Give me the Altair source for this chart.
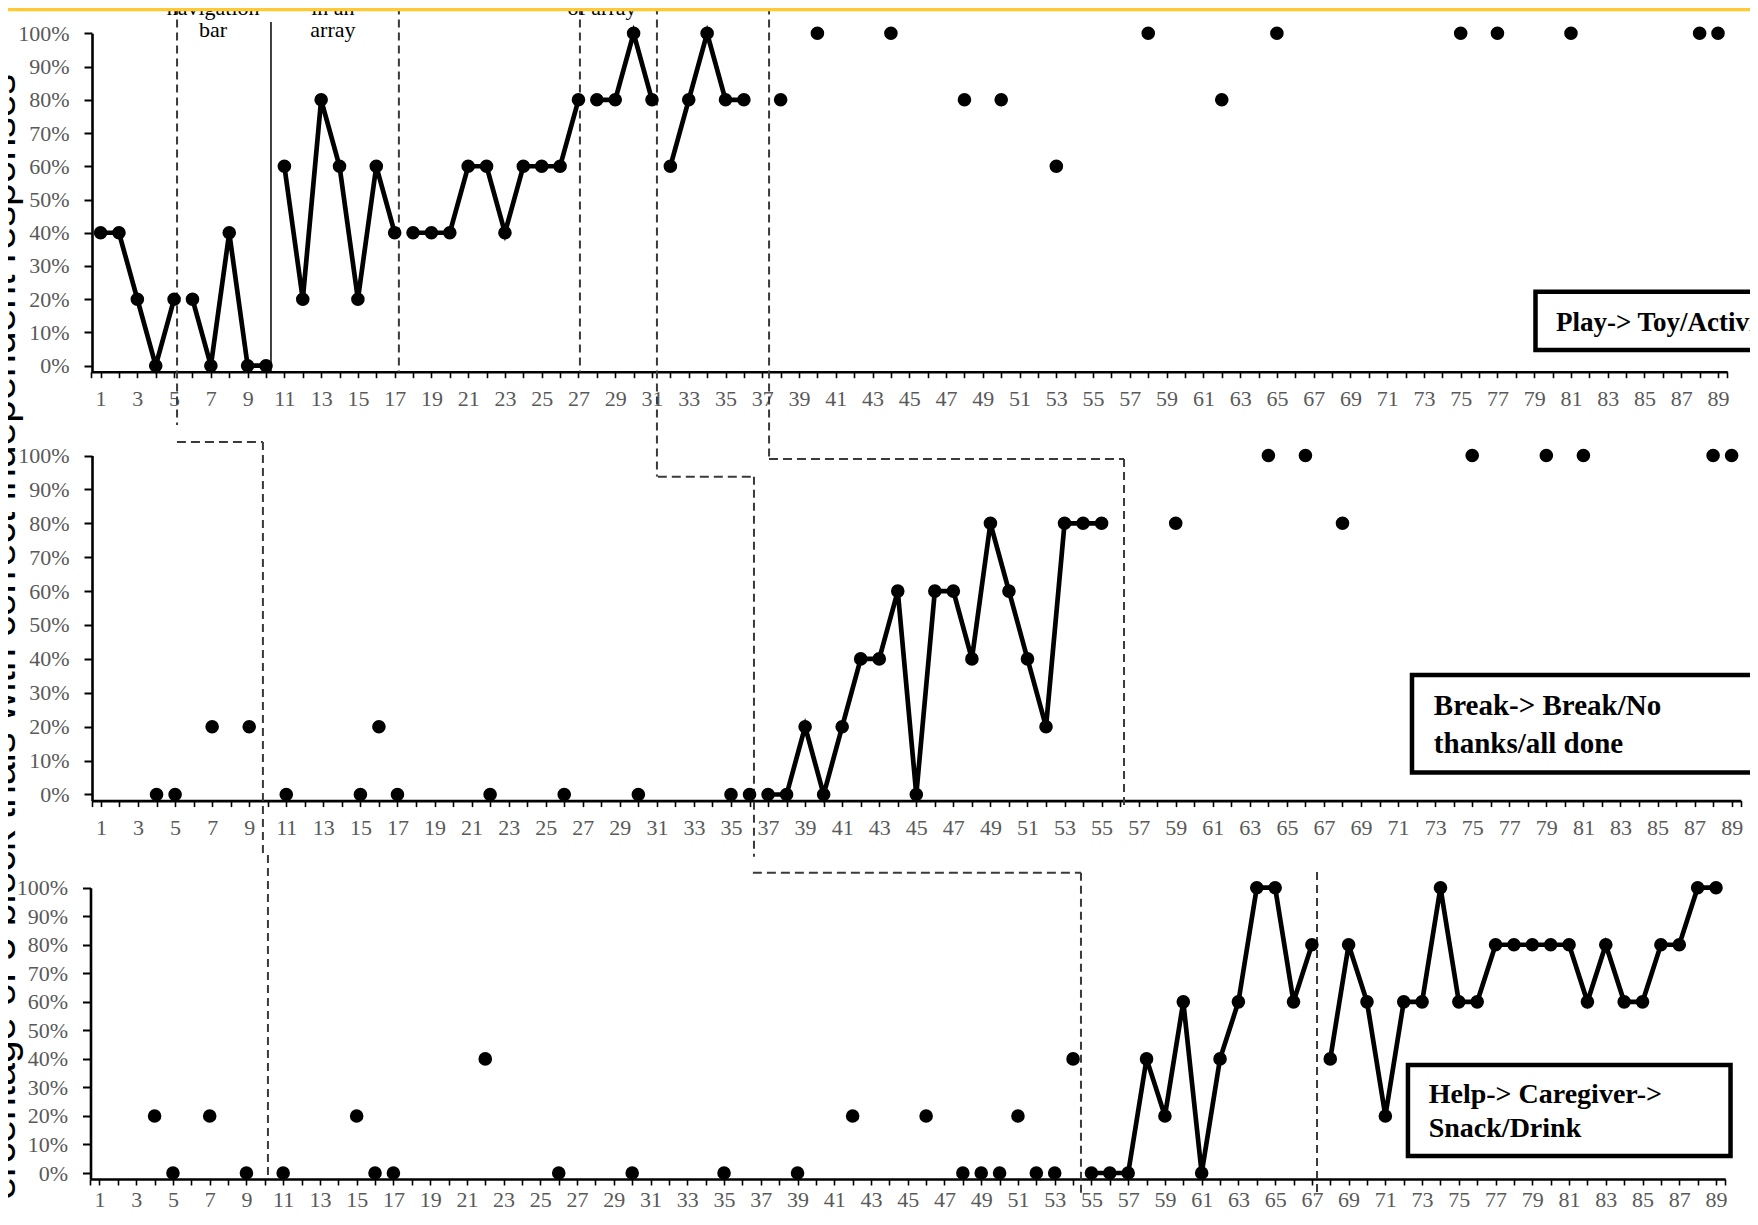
import altair as alt
import pandas as pd

# ---------------- data ----------------
# Panel 1: Play -> Toy/Activity
P1_SESSIONS = [1, 2, 3, 4, 5, 6, 7, 8, 9, 10, 11, 12, 13, 14, 15, 16, 17, 18, 19, 20,
               21, 22, 23, 24, 25, 26, 27, 28, 29, 30, 31, 32, 33, 34, 35, 36,
               38, 40, 44, 48, 50, 53, 58, 62, 65, 75, 77, 81, 88, 89]
P1_VALUES = [40, 40, 20, 0, 20,
             20, 0, 40, 0, 0,
             60, 20, 80, 60, 20, 60, 40,
             40, 40, 40, 60, 60, 40, 60, 60, 60, 80,
             80, 80, 100, 80,
             60, 80, 100, 80, 80,
             80, 100, 100, 80, 80, 60, 100, 80, 100, 100, 100, 100, 100, 100]
P1_RUNS = [(1, 5), (6, 10), (11, 17), (18, 27), (28, 31), (32, 36)]

# Panel 2: Break -> Break/No thanks/all done
P2_SESSIONS = [4, 5, 7, 9, 11, 15, 16, 17, 22, 26, 30, 35, 36,
               37, 38, 39, 40, 41, 42, 43, 44, 45, 46, 47, 48, 49, 50, 51, 52, 53, 54, 55,
               59, 64, 66, 68, 75, 79, 81, 88, 89]
P2_VALUES = [0, 0, 20, 20, 0, 0, 20, 0, 0, 0, 0, 0, 0,
             0, 0, 20, 0, 20, 40, 40, 60, 0, 60, 60, 40, 80, 60, 40, 20, 80, 80, 80,
             80, 100, 100, 80, 100, 100, 100, 100, 100]
P2_RUNS = [(37, 55)]

# Panel 3: Help -> Caregiver -> Snack/Drink
P3_SESSIONS = [4, 5, 7, 9, 11, 15, 16, 17, 22, 26, 30, 35, 39, 42, 46, 48, 49, 50, 51, 52, 53, 54,
               55, 56, 57, 58, 59, 60, 61, 62, 63, 64, 65, 66, 67,
               68, 69, 70, 71, 72, 73, 74, 75, 76, 77, 78, 79, 80, 81, 82, 83, 84, 85, 86, 87, 88, 89]
P3_VALUES = [20, 0, 20, 0, 0, 20, 0, 0, 40, 0, 0, 0, 0, 20, 20, 0, 0, 0, 20, 0, 0, 40,
             0, 0, 0, 40, 20, 60, 0, 40, 60, 100, 100, 60, 80,
             40, 80, 60, 20, 60, 60, 100, 60, 60, 80, 80, 80, 80, 80, 60, 80, 60, 60, 80, 80, 100, 100]
P3_RUNS = [(55, 67), (68, 89)]

X_TICKS = [0.5, 1, 2, 3, 4, 5, 6, 7, 8, 9, 10, 11, 12, 13, 14, 15, 16, 17, 18, 19, 20,
           21, 22, 23, 24, 25, 26, 27, 28, 29, 30, 31, 32, 33, 34, 35, 36, 37, 38, 39, 40,
           41, 42, 43, 44, 45, 46, 47, 48, 49, 50, 51, 52, 53, 54, 55, 56, 57, 58, 59, 60,
           61, 62, 63, 64, 65, 66, 67, 68, 69, 70, 71, 72, 73, 74, 75, 76, 77, 78, 79, 80,
           81, 82, 83, 84, 85, 86, 87, 88, 89, 89.5]
Y_TICKS = [0, 10, 20, 30, 40, 50, 60, 70, 80, 90, 100]

Y_TITLE = "Percentage of 5 block trials with correct independent responses"

# phase-change lines (session position, percent extents)
P1_DASHED = [(5.16, 112, -17.8), (17.23, 112, -1.9), (27.08, 112, -1.9),
             (31.27, 112, -33.3), (37.37, 112, -28.1)]
P1_SOLID = [(10.27, 103.4, -1.9)]
P2_DASHED = [(9.74, 104.0, -18.4), (36.24, 93.7, -18.4), (56.21, 99.0, -3.4)]
P2_HORIZ = [(5.10, 9.74, 104.0), (31.05, 36.24, 93.7), (37.05, 56.21, 99.0)]
P3_DASHED = [(10.17, 111.5, -2.5), (54.43, 105.2, -7.0), (67.28, 105.5, -7.0)]
P3_HORIZ = [(36.57, 54.43, 105.2)]

# phase labels at the top of panel 1
P1_PHASE_TEXT = ["navigation", "bar", "in an", "array", "of array"]
P1_PHASE_X = [7.12, 7.12, 13.64, 13.64, 28.28]
P1_PHASE_Y = [105.6, 98.8, 105.6, 98.8, 105.6]

# tier label boxes
P1_BOX = (79.07, 96, 22.26, 4.72)
P1_BOX_TEXT = [("Play-> Toy/Activity", 80.18, 10.44)]
P2_BOX = (71.75, 96, 35.25, 6.49)
P2_BOX_TEXT = [("Break-> Break/No", 72.93, 23.45), ("thanks/all done", 72.93, 12.24)]
P3_BOX = (72.23, 89.79, 37.85, 5.96)
P3_BOX_TEXT = [("Help-> Caregiver->", 73.36, 24.54), ("Snack/Drink", 73.36, 12.62)]

HEADER_BAR = (-10, 100, 108, 106.6)

SERIF = "Liberation Serif"
W, H = 1658, 1204


def run_id(s, runs):
    for i, (a, b) in enumerate(runs):
        if a <= s <= b:
            return f"r{i}"
    return None


def build_panel(sessions, values, runs, xrange, yrange, ymin, xoffset, yoffset,
                label_pad, dashed, solid, horiz, box, box_text, box_font,
                title=None, extra_layers_fn=None):
    pts = pd.DataFrame({"s": sessions, "v": values})
    pts["run"] = [run_id(s, runs) for s in sessions]
    lines = pts.dropna(subset=["run"])

    xs = alt.Scale(domain=[0.5, 89.5], range=xrange, nice=False, zero=False)
    ys = alt.Scale(domain=[ymin, 100], range=yrange, nice=False, zero=False)
    xa = alt.Axis(orient="bottom", offset=xoffset, values=X_TICKS,
                  labelExpr="datum.value % 2 == 1 ? format(datum.value, 'd') : ''",
                  labelFont=SERIF, labelFontSize=22, labelColor="#595959",
                  labelPadding=label_pad, labelFlush=False, labelOverlap=False,
                  tickSize=6, tickWidth=1.6, tickColor="black",
                  domainColor="black", domainWidth=2.6, grid=False)
    ya_kw = dict(orient="left", offset=yoffset, values=Y_TICKS,
                 labelExpr="datum.value + '%'",
                 labelFont=SERIF, labelFontSize=22, labelColor="#595959",
                 labelPadding=15, labelFlush=False, labelOverlap=False,
                 tickSize=8, tickWidth=2, tickColor="black",
                 domainColor="black", domainWidth=2.6, grid=False)
    if title is not None:
        ya_kw.update(titleX=-78, titleY=642, titleAngle=270, titleAlign="center",
                     titleBaseline="alphabetic", titleFont="Liberation Sans",
                     titleFontSize=41, titleFontWeight="normal", titleColor="black")
    ya = alt.Axis(**ya_kw)

    def X(f):
        return alt.X(f, type="quantitative", scale=xs, axis=xa, title=None)

    def Y(f):
        return alt.Y(f, type="quantitative", scale=ys, axis=ya, title=title)

    layers = []
    dv = pd.DataFrame(dashed, columns=["s", "v", "v2"])
    layers.append(alt.Chart(dv).mark_rule(color="#3a3a3a", strokeWidth=2,
                                          strokeDash=[8, 5], clip=False)
                  .encode(x=X("s"), y=Y("v"), y2=alt.Y2("v2")))
    if solid:
        sv = pd.DataFrame(solid, columns=["s", "v", "v2"])
        layers.append(alt.Chart(sv).mark_rule(color="black", strokeWidth=1.5, clip=False)
                      .encode(x=X("s"), y=Y("v"), y2=alt.Y2("v2")))
    if horiz:
        hv = pd.DataFrame(horiz, columns=["s", "s2", "v"])
        layers.append(alt.Chart(hv).mark_rule(color="#3a3a3a", strokeWidth=2,
                                              strokeDash=[9, 5], clip=False)
                      .encode(x=X("s"), x2=alt.X2("s2"), y=Y("v")))
    layers.append(alt.Chart(lines).mark_line(color="black", strokeWidth=4.7, clip=False)
                  .encode(x=X("s"), y=Y("v"), detail="run:N"))
    layers.append(alt.Chart(pts).mark_circle(color="black", opacity=1, size=185, clip=False)
                  .encode(x=X("s"), y=Y("v")))
    bx = pd.DataFrame([box], columns=["s", "s2", "v", "v2"])
    layers.append(alt.Chart(bx).mark_rect(fill="white", stroke="black", strokeWidth=4.5,
                                          clip=False)
                  .encode(x=X("s"), x2=alt.X2("s2"), y=Y("v"), y2=alt.Y2("v2")))
    bt = pd.DataFrame(box_text, columns=["t", "s", "v"])
    layers.append(alt.Chart(bt).mark_text(align="left", baseline="alphabetic", font=SERIF,
                                          fontWeight="bold", fontSize=box_font,
                                          color="black", clip=False)
                  .encode(x=X("s"), y=Y("v"), text="t:N"))
    if extra_layers_fn is not None:
        layers.extend(extra_layers_fn(X, Y))
    return alt.layer(*layers)


def p1_extra(X, Y):
    tx = pd.DataFrame({"t": P1_PHASE_TEXT, "s": P1_PHASE_X, "v": P1_PHASE_Y})
    t = (alt.Chart(tx).mark_text(align="center", baseline="alphabetic", font=SERIF,
                                 fontSize=22, color="black", clip=False)
         .encode(x=X("s"), y=Y("v"), text="t:N"))
    hb = pd.DataFrame([HEADER_BAR], columns=["s", "s2", "v", "v2"])
    bar = (alt.Chart(hb).mark_rect(color="#FFC933", clip=False)
           .encode(x=X("s"), x2=alt.X2("s2"), y=Y("v"), y2=alt.Y2("v2")))
    return [t, bar]


p1 = build_panel(P1_SESSIONS, P1_VALUES, P1_RUNS, [-0.6, 1635.2], [363.7, 25.3], -1.8,
                 363.7 - H, 0, 11, P1_DASHED, P1_SOLID, [], P1_BOX, P1_BOX_TEXT, 27,
                 extra_layers_fn=p1_extra)
p2 = build_panel(P2_SESSIONS, P2_VALUES, P2_RUNS, [-0.3, 1648.9], [792.6, 447.5], -1.8,
                 792.6 - H, 0, 11, P2_DASHED, [], P2_HORIZ, P2_BOX, P2_BOX_TEXT, 29,
                 title=Y_TITLE)
p3 = build_panel(P3_SESSIONS, P3_VALUES, P3_RUNS, [-1.7, 1633.2], [1171.0, 879.7], -2.1,
                 1171.0 - H, 1.5, 4, P3_DASHED, [], P3_HORIZ, P3_BOX, P3_BOX_TEXT, 28)

chart = (alt.layer(p1, p2, p3)
         .resolve_scale(x="independent", y="independent")
         .resolve_axis(x="independent", y="independent")
         .properties(width=W, height=H,
                     padding={"left": 84, "top": 0, "right": 0, "bottom": 0},
                     autosize=alt.AutoSizeParams(type="none"),
                     background="white")
         .configure_view(strokeWidth=0)
         .configure_axis(grid=False))

chart.save("out.html", embed_options={"renderer": "svg", "actions": False})
